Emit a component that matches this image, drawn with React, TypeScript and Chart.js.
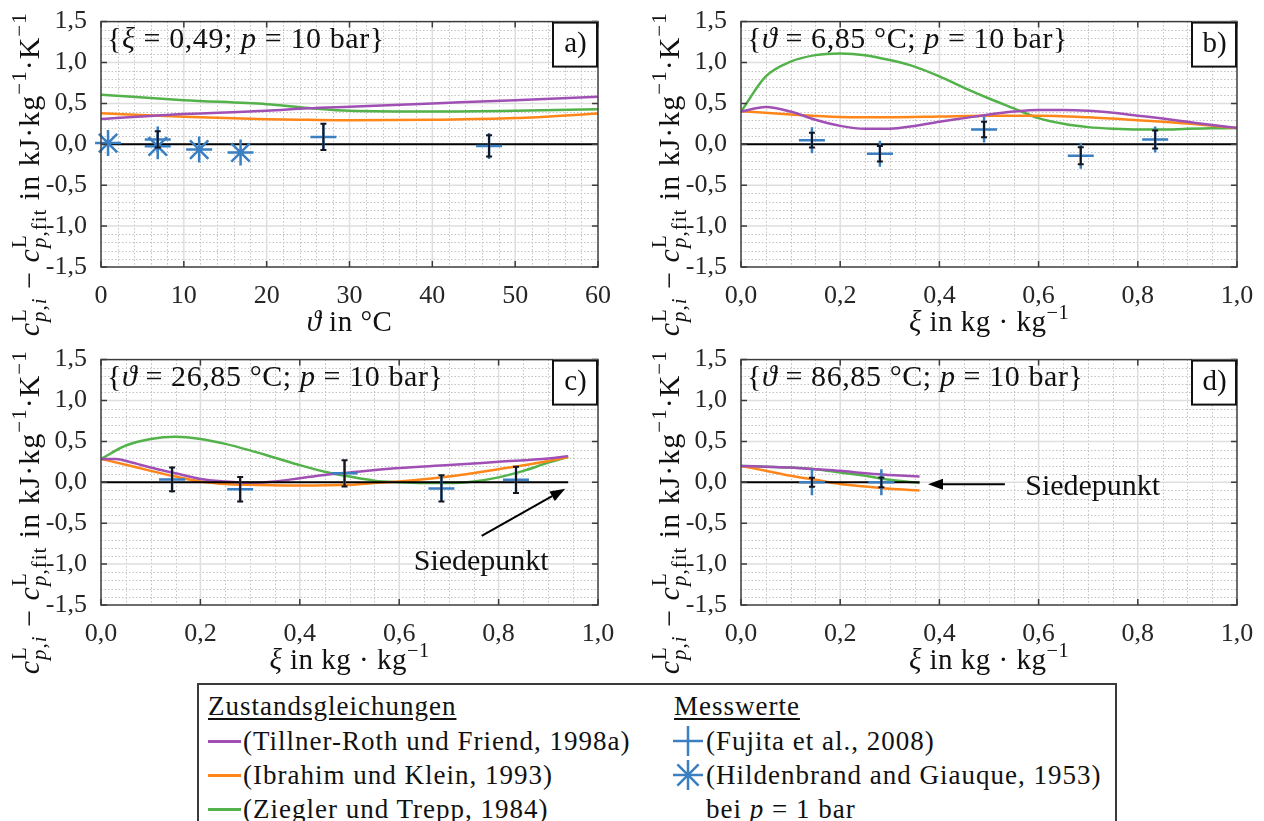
import React, { useEffect, useRef } from "react";
import { Chart, registerables } from "chart.js";
Chart.register(...registerables);

const SERIF = "'Liberation Serif', 'DejaVu Serif', serif";
const PURPLE = "#a050b4";
const ORANGE = "#ff871a";
const GREEN = "#53b24a";
const BLUE = "#3a7fc2";

// ---------- Panel a: xi = 0.49, p = 10 bar (x = temperature in °C)
const aCurveX = [0, 10, 20, 25, 30, 40, 50, 60];
const aTillner = [0.31, 0.37, 0.41, 0.44, 0.46, 0.5, 0.54, 0.58];
const aIbrahim = [0.38, 0.336, 0.307, 0.3, 0.295, 0.3, 0.32, 0.377];
const aZiegler = [0.607, 0.54, 0.49, 0.445, 0.41, 0.4, 0.41, 0.43];
const aFujitaX = [6.85, 26.85, 46.85];
const aFujitaY = [0.06, 0.09, -0.02];
const aFujitaErr = [0.1, 0.16, 0.13];
const aHildX = [0.85, 6.85, 11.85, 16.85];
const aHildY = [0.015, -0.025, -0.065, -0.1];

// ---------- Panel b: theta = 6.85 °C
const bCurveX = [0, 0.05, 0.1, 0.15, 0.2, 0.25, 0.3, 0.35, 0.4, 0.45, 0.5, 0.55, 0.6, 0.65, 0.7, 0.75, 0.8, 0.85, 0.9, 0.95, 1.0];
const bTillner = [0.4, 0.455, 0.4, 0.3, 0.225, 0.19, 0.19, 0.225, 0.275, 0.32, 0.365, 0.4, 0.42, 0.42, 0.41, 0.385, 0.35, 0.315, 0.275, 0.235, 0.2];
const bZiegler = [0.4, 0.83, 1.01, 1.09, 1.11, 1.09, 1.03, 0.95, 0.83, 0.69, 0.56, 0.44, 0.32, 0.25, 0.21, 0.19, 0.18, 0.18, 0.19, 0.195, 0.2];
const bIbrahimX = [0, 0.1, 0.2, 0.3, 0.4, 0.5, 0.6, 0.7, 0.8, 0.9, 1.0];
const bIbrahim = [0.405, 0.365, 0.335, 0.33, 0.34, 0.35, 0.35, 0.33, 0.295, 0.255, 0.2];
const bFujitaX = [0.143, 0.28, 0.49, 0.685, 0.835];
const bFujitaY = [0.05, -0.115, 0.18, -0.14, 0.06];
const bFujitaErr = [0.09, 0.095, 0.095, 0.105, 0.11];

// ---------- Panel c: theta = 26.85 °C
const cZieglerX = [0, 0.05, 0.1, 0.15, 0.2, 0.25, 0.3, 0.35, 0.4, 0.45, 0.5, 0.55, 0.6, 0.65, 0.7, 0.75, 0.8, 0.85, 0.9, 0.94];
const cZiegler = [0.285, 0.45, 0.53, 0.557, 0.53, 0.47, 0.39, 0.3, 0.21, 0.13, 0.07, 0.02, 0.0, -0.01, -0.01, 0.01, 0.06, 0.14, 0.24, 0.31];
const cTillnerX = [0, 0.03, 0.06, 0.1, 0.15, 0.2, 0.25, 0.3, 0.35, 0.4, 0.45, 0.5, 0.6, 0.7, 0.8, 0.9, 0.94];
const cTillner = [0.285, 0.285, 0.245, 0.18, 0.11, 0.04, 0.01, -0.005, 0.01, 0.05, 0.09, 0.12, 0.175, 0.21, 0.25, 0.29, 0.32];
const cIbrahimX = [0, 0.05, 0.1, 0.15, 0.2, 0.25, 0.3, 0.4, 0.5, 0.55, 0.6, 0.7, 0.8, 0.9, 0.94];
const cIbrahim = [0.285, 0.215, 0.14, 0.07, 0.01, -0.02, -0.03, -0.04, -0.03, -0.01, 0.01, 0.07, 0.16, 0.26, 0.31];
const cFujitaX = [0.143, 0.28, 0.49, 0.685, 0.835];
const cFujitaY = [0.035, -0.085, 0.11, -0.075, 0.03];
const cFujitaErr = [0.145, 0.15, 0.16, 0.16, 0.16];

// ---------- Panel d: theta = 86.85 °C
const dCurveX = [0, 0.05, 0.1, 0.15, 0.2, 0.25, 0.3, 0.36];
const dTillner = [0.2, 0.19, 0.18, 0.16, 0.14, 0.11, 0.09, 0.07];
const dIbrahim = [0.2, 0.14, 0.08, 0.03, -0.02, -0.05, -0.08, -0.1];
const dZiegler = [0.2, 0.19, 0.18, 0.16, 0.12, 0.08, 0.03, -0.01];
const dFujitaX = [0.143, 0.283];
const dFujitaY = [0.0, 0.0];
const dFujitaErr = [0.055, 0.06];

// ---------- tick labels / axis ranges
const yTickMin = -1.5;
const yTickMax = 1.5;

type Run = { t: string; it?: boolean };
type Seg = { runs?: Run[]; sup?: Run[]; sub?: Run[] };

const yTitle: Seg[] = [
  { runs: [{ t: "c", it: true }] },
  { sup: [{ t: "L" }], sub: [{ t: "p", it: true }, { t: "," }, { t: "i", it: true }] },
  { runs: [{ t: " − " }, { t: "c", it: true }] },
  { sup: [{ t: "L" }], sub: [{ t: "p", it: true }, { t: ",fit" }] },
  { runs: [{ t: " in kJ·kg" }] },
  { sup: [{ t: "−1" }] },
  { runs: [{ t: "·K" }] },
  { sup: [{ t: "−1" }] },
];
const xTitleT: Seg[] = [{ runs: [{ t: "ϑ", it: true }, { t: " in °C" }] }];
const xTitleXi: Seg[] = [{ runs: [{ t: "ξ", it: true }, { t: " in kg · kg" }] }, { sup: [{ t: "−1" }] }];
const noteSeg = (sym: string, val: string): Seg[] => [
  { runs: [{ t: "{" }, { t: sym, it: true }, { t: ` = ${val}; ` }, { t: "p", it: true }, { t: " = 10 bar}" }] },
];

const fontStr = (size: number, it?: boolean) => `${it ? "italic " : ""}${size}px ${SERIF}`;

function runsW(ctx: CanvasRenderingContext2D, runs: Run[], size: number) {
  let w = 0;
  for (const r of runs) {
    ctx.font = fontStr(size, r.it);
    w += ctx.measureText(r.t).width;
  }
  return w;
}
function segW(ctx: CanvasRenderingContext2D, s: Seg, size: number) {
  if (s.runs) return runsW(ctx, s.runs, size);
  const ss = size * 0.7;
  return Math.max(s.sup ? runsW(ctx, s.sup, ss) : 0, s.sub ? runsW(ctx, s.sub, ss) : 0);
}
function drawRuns(ctx: CanvasRenderingContext2D, runs: Run[], size: number, x: number, y: number) {
  for (const r of runs) {
    ctx.font = fontStr(size, r.it);
    ctx.fillText(r.t, x, y);
    x += ctx.measureText(r.t).width;
  }
}
function drawRich(
  ctx: CanvasRenderingContext2D,
  segs: Seg[],
  size: number,
  x: number,
  y: number,
  align: "left" | "center",
  rotate = false,
  spacing = 0
) {
  ctx.save();
  ctx.translate(x, y);
  if (rotate) ctx.rotate(-Math.PI / 2);
  (ctx as any).letterSpacing = `${spacing}px`;
  ctx.textAlign = "left";
  ctx.textBaseline = "alphabetic";
  ctx.fillStyle = "#111";
  let total = 0;
  for (const s of segs) total += segW(ctx, s, size);
  let cx = align === "center" ? -total / 2 : 0;
  for (const s of segs) {
    if (s.runs) drawRuns(ctx, s.runs, size, cx, 0);
    else {
      const ss = size * 0.7;
      if (s.sup) drawRuns(ctx, s.sup, ss, cx, -size * 0.42);
      if (s.sub) drawRuns(ctx, s.sub, ss, cx, size * 0.24);
    }
    cx += segW(ctx, s, size);
  }
  ctx.restore();
}

type Curve = { x: number[]; y: number[]; color: string };
type Spec = {
  L: number;
  R: number;
  xMin: number;
  xMax: number;
  xMajor: number;
  xMinor: number;
  xDec: number;
  curves: Curve[];
  zeroEnd: number;
  fx: number[];
  fy: number[];
  ferr: number[];
  hx?: number[];
  hy?: number[];
  note: Seg[];
  tag: string;
  xTitle: Seg[];
  arrow?: { x1: number; y1: number; x2: number; y2: number; tx: number; ty: number; align: "left" | "center" };
};

const T = 20;
const B = 267;
const CW = 632;
const CH = 338;

const fmt = (v: number, dec: number) => v.toFixed(dec).replace(".", ",");
const pts = (xs: number[], ys: number[]) => xs.map((x, i) => ({ x, y: ys[i] }));

function buildChart(canvas: HTMLCanvasElement, s: Spec) {
  const datasets: any[] = [];
  if (s.hx && s.hy) {
    datasets.push({
      data: pts(s.hx, s.hy),
      showLine: false,
      pointStyle: "star",
      pointRadius: 13,
      pointBorderWidth: 2.5,
      pointBorderColor: BLUE,
      pointBackgroundColor: BLUE,
      clip: false,
    });
  }
  datasets.push({
    data: pts(s.fx, s.fy),
    showLine: false,
    pointStyle: "cross",
    pointRadius: 13,
    pointBorderWidth: 2.5,
    pointBorderColor: BLUE,
    pointBackgroundColor: BLUE,
    clip: false,
  });
  datasets.push({
    data: [
      { x: s.xMin, y: 0 },
      { x: s.zeroEnd, y: 0 },
    ],
    borderColor: "#000",
    borderWidth: 2,
    pointRadius: 0,
  });
  for (const c of s.curves) {
    datasets.push({
      data: pts(c.x, c.y),
      borderColor: c.color,
      borderWidth: 2.5,
      pointRadius: 0,
      cubicInterpolationMode: "monotone",
    });
  }

  const plugin = {
    id: "panelDecor",
    beforeDatasetsDraw(chart: any) {
      const ctx: CanvasRenderingContext2D = chart.ctx;
      const { left, right, top, bottom } = chart.chartArea;
      const xs = chart.scales.x;
      const ys = chart.scales.y;
      ctx.save();
      // minor dotted grid
      ctx.strokeStyle = "#c2c2c2";
      ctx.lineWidth = 1;
      ctx.setLineDash([1.5, 2]);
      const nx = Math.round((s.xMax - s.xMin) / s.xMinor);
      const rx = Math.round(s.xMajor / s.xMinor);
      for (let i = 1; i < nx; i++) {
        if (i % rx === 0) continue;
        const px = Math.round(xs.getPixelForValue(s.xMin + i * s.xMinor)) + 0.5;
        ctx.beginPath();
        ctx.moveTo(px, top);
        ctx.lineTo(px, bottom);
        ctx.stroke();
      }
      const ny = Math.round((yTickMax - yTickMin) / 0.1);
      for (let i = 1; i < ny; i++) {
        if (i % 5 === 0) continue;
        const py = Math.round(ys.getPixelForValue(yTickMin + i * 0.1)) + 0.5;
        ctx.beginPath();
        ctx.moveTo(left, py);
        ctx.lineTo(right, py);
        ctx.stroke();
      }
      // major solid grid
      ctx.setLineDash([]);
      ctx.strokeStyle = "#dedede";
      ctx.lineWidth = 1.5;
      for (let i = rx; i < nx; i += rx) {
        const px = xs.getPixelForValue(s.xMin + i * s.xMinor);
        ctx.beginPath();
        ctx.moveTo(px, top);
        ctx.lineTo(px, bottom);
        ctx.stroke();
      }
      for (let i = 5; i < ny; i += 5) {
        const py = ys.getPixelForValue(yTickMin + i * 0.1);
        ctx.beginPath();
        ctx.moveTo(left, py);
        ctx.lineTo(right, py);
        ctx.stroke();
      }
      ctx.restore();
    },
    afterDatasetsDraw(chart: any) {
      const ctx: CanvasRenderingContext2D = chart.ctx;
      const xs = chart.scales.x;
      const ys = chart.scales.y;
      ctx.save();
      // error bars
      ctx.strokeStyle = "#15151f";
      ctx.lineWidth = 2;
      s.fx.forEach((x, i) => {
        const px = xs.getPixelForValue(x);
        const y1 = ys.getPixelForValue(s.fy[i] + s.ferr[i]);
        const y2 = ys.getPixelForValue(s.fy[i] - s.ferr[i]);
        ctx.beginPath();
        ctx.moveTo(px, y1);
        ctx.lineTo(px, y2);
        ctx.moveTo(px - 3, y1);
        ctx.lineTo(px + 3, y1);
        ctx.moveTo(px - 3, y2);
        ctx.lineTo(px + 3, y2);
        ctx.stroke();
      });
      // arrow + label
      if (s.arrow) {
        const a = s.arrow;
        const x1 = xs.getPixelForValue(a.x1);
        const y1 = ys.getPixelForValue(a.y1);
        const x2 = xs.getPixelForValue(a.x2);
        const y2 = ys.getPixelForValue(a.y2);
        const ang = Math.atan2(y2 - y1, x2 - x1);
        const hl = 15;
        const hw = 5.5;
        const bx = x2 - hl * Math.cos(ang);
        const by = y2 - hl * Math.sin(ang);
        ctx.strokeStyle = "#000";
        ctx.fillStyle = "#000";
        ctx.lineWidth = 2;
        ctx.beginPath();
        ctx.moveTo(x1, y1);
        ctx.lineTo(bx, by);
        ctx.stroke();
        ctx.beginPath();
        ctx.moveTo(x2, y2);
        ctx.lineTo(bx + hw * Math.sin(ang), by - hw * Math.cos(ang));
        ctx.lineTo(bx - hw * Math.sin(ang), by + hw * Math.cos(ang));
        ctx.closePath();
        ctx.fill();
        ctx.font = fontStr(30);
        ctx.fillStyle = "#111";
        ctx.textAlign = a.align;
        ctx.textBaseline = "middle";
        ctx.fillText("Siedepunkt", xs.getPixelForValue(a.tx), ys.getPixelForValue(a.ty));
      }
      ctx.restore();
    },
    afterDraw(chart: any) {
      const ctx: CanvasRenderingContext2D = chart.ctx;
      const { left, right, top, bottom } = chart.chartArea;
      const xs = chart.scales.x;
      const ys = chart.scales.y;
      ctx.save();
      // frame
      ctx.strokeStyle = "#3c3c3c";
      ctx.lineWidth = 1.5;
      ctx.strokeRect(left, top, right - left, bottom - top);
      // inward major ticks
      const nx = Math.round((s.xMax - s.xMin) / s.xMajor);
      for (let i = 0; i <= nx; i++) {
        const px = xs.getPixelForValue(s.xMin + i * s.xMajor);
        ctx.beginPath();
        ctx.moveTo(px, bottom);
        ctx.lineTo(px, bottom - 6);
        ctx.moveTo(px, top);
        ctx.lineTo(px, top + 6);
        ctx.stroke();
      }
      for (let i = 0; i <= 6; i++) {
        const py = ys.getPixelForValue(yTickMin + i * 0.5);
        ctx.beginPath();
        ctx.moveTo(left, py);
        ctx.lineTo(left + 6, py);
        ctx.moveTo(right, py);
        ctx.lineTo(right - 6, py);
        ctx.stroke();
      }
      // panel tag box
      const bw = 45;
      const bh = 44;
      ctx.fillStyle = "#fff";
      ctx.fillRect(right - bw, top, bw, bh);
      ctx.strokeStyle = "#111";
      ctx.lineWidth = 2;
      ctx.strokeRect(right - bw, top + 1, bw - 1, bh);
      ctx.fillStyle = "#111";
      ctx.font = fontStr(29);
      ctx.textAlign = "center";
      ctx.textBaseline = "middle";
      ctx.fillText(s.tag, right - bw / 2, top + bh / 2 + 1);
      ctx.restore();
      // note
      drawRich(ctx, s.note, 30, left + 6, top + 26, "left", false, 0.6);
      // x title
      drawRich(ctx, s.xTitle, 29, (left + right) / 2, 331, "center", false, 0.5);
      // y title
      drawRich(ctx, yTitle, 30, left - 62, (top + bottom) / 2 + 30, "center", true, 1);
    },
  };

  return new Chart(canvas, {
    type: "line",
    data: { datasets },
    options: {
      animation: false,
      responsive: false,
      devicePixelRatio: 1,
      layout: { padding: { top: T, right: CW - s.R, left: 0, bottom: 0 } },
      plugins: { legend: { display: false }, tooltip: { enabled: false } },
      scales: {
        x: {
          type: "linear",
          min: s.xMin,
          max: s.xMax,
          grid: { display: false },
          border: { display: false },
          afterFit: (sc: any) => {
            sc.height = CH - B;
          },
          ticks: {
            stepSize: s.xMajor,
            padding: 6,
            color: "#262626",
            font: { family: SERIF, size: 26 },
            maxRotation: 0,
            callback: (v: any) => fmt(Number(v), s.xDec),
          },
        },
        y: {
          type: "linear",
          min: yTickMin,
          max: yTickMax,
          grid: { display: false },
          border: { display: false },
          afterFit: (sc: any) => {
            sc.width = s.L;
          },
          ticks: {
            stepSize: 0.5,
            padding: 6,
            color: "#262626",
            font: { family: SERIF, size: 26 },
            callback: (v: any) => fmt(Number(v), 1),
          },
        },
      },
    } as any,
    plugins: [plugin],
  });
}

const specA: Spec = {
  L: 101,
  R: 598,
  xMin: 0,
  xMax: 60,
  xMajor: 10,
  xMinor: 2,
  xDec: 0,
  curves: [
    { x: aCurveX, y: aTillner, color: PURPLE },
    { x: aCurveX, y: aIbrahim, color: ORANGE },
    { x: aCurveX, y: aZiegler, color: GREEN },
  ],
  zeroEnd: 60,
  fx: aFujitaX,
  fy: aFujitaY,
  ferr: aFujitaErr,
  hx: aHildX,
  hy: aHildY,
  note: noteSeg("ξ", "0,49"),
  tag: "a)",
  xTitle: xTitleT,
};
const specB: Spec = {
  L: 109,
  R: 605,
  xMin: 0,
  xMax: 1,
  xMajor: 0.2,
  xMinor: 0.05,
  xDec: 1,
  curves: [
    { x: bCurveX, y: bTillner, color: PURPLE },
    { x: bIbrahimX, y: bIbrahim, color: ORANGE },
    { x: bCurveX, y: bZiegler, color: GREEN },
  ],
  zeroEnd: 1,
  fx: bFujitaX,
  fy: bFujitaY,
  ferr: bFujitaErr,
  note: noteSeg("ϑ", "6,85 °C"),
  tag: "b)",
  xTitle: xTitleXi,
};
const specC: Spec = {
  L: 101,
  R: 598,
  xMin: 0,
  xMax: 1,
  xMajor: 0.2,
  xMinor: 0.05,
  xDec: 1,
  curves: [
    { x: cTillnerX, y: cTillner, color: PURPLE },
    { x: cIbrahimX, y: cIbrahim, color: ORANGE },
    { x: cZieglerX, y: cZiegler, color: GREEN },
  ],
  zeroEnd: 0.94,
  fx: cFujitaX,
  fy: cFujitaY,
  ferr: cFujitaErr,
  note: noteSeg("ϑ", "26,85 °C"),
  tag: "c)",
  xTitle: xTitleXi,
  arrow: { x1: 0.766, y1: -0.655, x2: 0.934, y2: -0.08, tx: 0.765, ty: -0.98, align: "center" },
};
const specD: Spec = {
  L: 109,
  R: 605,
  xMin: 0,
  xMax: 1,
  xMajor: 0.2,
  xMinor: 0.05,
  xDec: 1,
  curves: [
    { x: dCurveX, y: dTillner, color: PURPLE },
    { x: dCurveX, y: dIbrahim, color: ORANGE },
    { x: dCurveX, y: dZiegler, color: GREEN },
  ],
  zeroEnd: 0.36,
  fx: dFujitaX,
  fy: dFujitaY,
  ferr: dFujitaErr,
  note: noteSeg("ϑ", "86,85 °C"),
  tag: "d)",
  xTitle: xTitleXi,
  arrow: { x1: 0.532, y1: -0.025, x2: 0.377, y2: -0.025, tx: 0.573, ty: -0.06, align: "left" },
};

function Panel({ spec, left, top }: { spec: Spec; left: number; top: number }) {
  const ref = useRef<HTMLCanvasElement>(null);
  useEffect(() => {
    const chart = buildChart(ref.current as HTMLCanvasElement, spec);
    return () => chart.destroy();
  }, [spec]);
  return (
    <canvas
      ref={ref}
      width={CW}
      height={CH}
      style={{ position: "absolute", left, top, width: CW, height: CH }}
    />
  );
}

const CrossIcon = () => (
  <svg width={30} height={30} style={{ position: "absolute", left: 474, top: -15 }}>
    <line x1={0} y1={15} x2={30} y2={15} stroke={BLUE} strokeWidth={2.5} />
    <line x1={15} y1={0} x2={15} y2={30} stroke={BLUE} strokeWidth={2.5} />
  </svg>
);
const StarIcon = () => (
  <svg width={30} height={30} style={{ position: "absolute", left: 474, top: -15 }}>
    <line x1={0} y1={15} x2={30} y2={15} stroke={BLUE} strokeWidth={2.5} />
    <line x1={15} y1={0} x2={15} y2={30} stroke={BLUE} strokeWidth={2.5} />
    <line x1={4.4} y1={4.4} x2={25.6} y2={25.6} stroke={BLUE} strokeWidth={2.5} />
    <line x1={25.6} y1={4.4} x2={4.4} y2={25.6} stroke={BLUE} strokeWidth={2.5} />
  </svg>
);
const LineIcon = ({ color }: { color: string }) => (
  <div style={{ position: "absolute", left: 9, top: -1.5, width: 33, height: 3, background: color }} />
);

const legendLeft = [
  { label: "(Tillner-Roth und Friend, 1998a)", color: PURPLE },
  { label: "(Ibrahim und Klein, 1993)", color: ORANGE },
  { label: "(Ziegler und Trepp, 1984)", color: GREEN },
];

function Row({ y, children }: { y: number; children: React.ReactNode }) {
  return <div style={{ position: "absolute", left: 0, top: y, width: 0, height: 0 }}>{children}</div>;
}
const textStyle = (left: number): React.CSSProperties => ({
  position: "absolute",
  left,
  top: -17,
  height: 34,
  lineHeight: "34px",
  whiteSpace: "nowrap",
});

function Legend() {
  // coordinates relative to the legend box (left 197, top 683)
  const rows = [21, 56, 90, 124];
  return (
    <div
      style={{
        position: "absolute",
        left: 197,
        top: 683,
        width: 920,
        height: 160,
        border: "2px solid #3a3a3a",
        boxSizing: "border-box",
        fontFamily: SERIF,
        fontSize: 27,
        letterSpacing: "1px",
        color: "#111",
      }}
    >
      <Row y={rows[0]}>
        <span style={{ ...textStyle(9), textDecoration: "underline", textUnderlineOffset: "3px" }}>
          Zustandsgleichungen
        </span>
        <span style={{ ...textStyle(475), textDecoration: "underline", textUnderlineOffset: "3px" }}>Messwerte</span>
      </Row>
      {legendLeft.map((e, i) => (
        <Row key={e.label} y={rows[i + 1]}>
          <LineIcon color={e.color} />
          <span style={textStyle(44)}>{e.label}</span>
        </Row>
      ))}
      <Row y={rows[1]}>
        <CrossIcon />
        <span style={textStyle(507)}>(Fujita et al., 2008)</span>
      </Row>
      <Row y={rows[2]}>
        <StarIcon />
        <span style={textStyle(507)}>(Hildenbrand and Giauque, 1953)</span>
      </Row>
      <Row y={rows[3]}>
        <span style={textStyle(507)}>
          bei <i>p</i> = 1 bar
        </span>
      </Row>
    </div>
  );
}

export default function App() {
  return (
    <div
      style={{
        position: "fixed",
        left: 0,
        top: 0,
        width: 1264,
        height: 821,
        background: "#fff",
        overflow: "hidden",
      }}
    >
      <Panel spec={specA} left={0} top={0} />
      <Panel spec={specB} left={632} top={0} />
      <Panel spec={specC} left={0} top={338} />
      <Panel spec={specD} left={632} top={338} />
      <Legend />
    </div>
  );
}
